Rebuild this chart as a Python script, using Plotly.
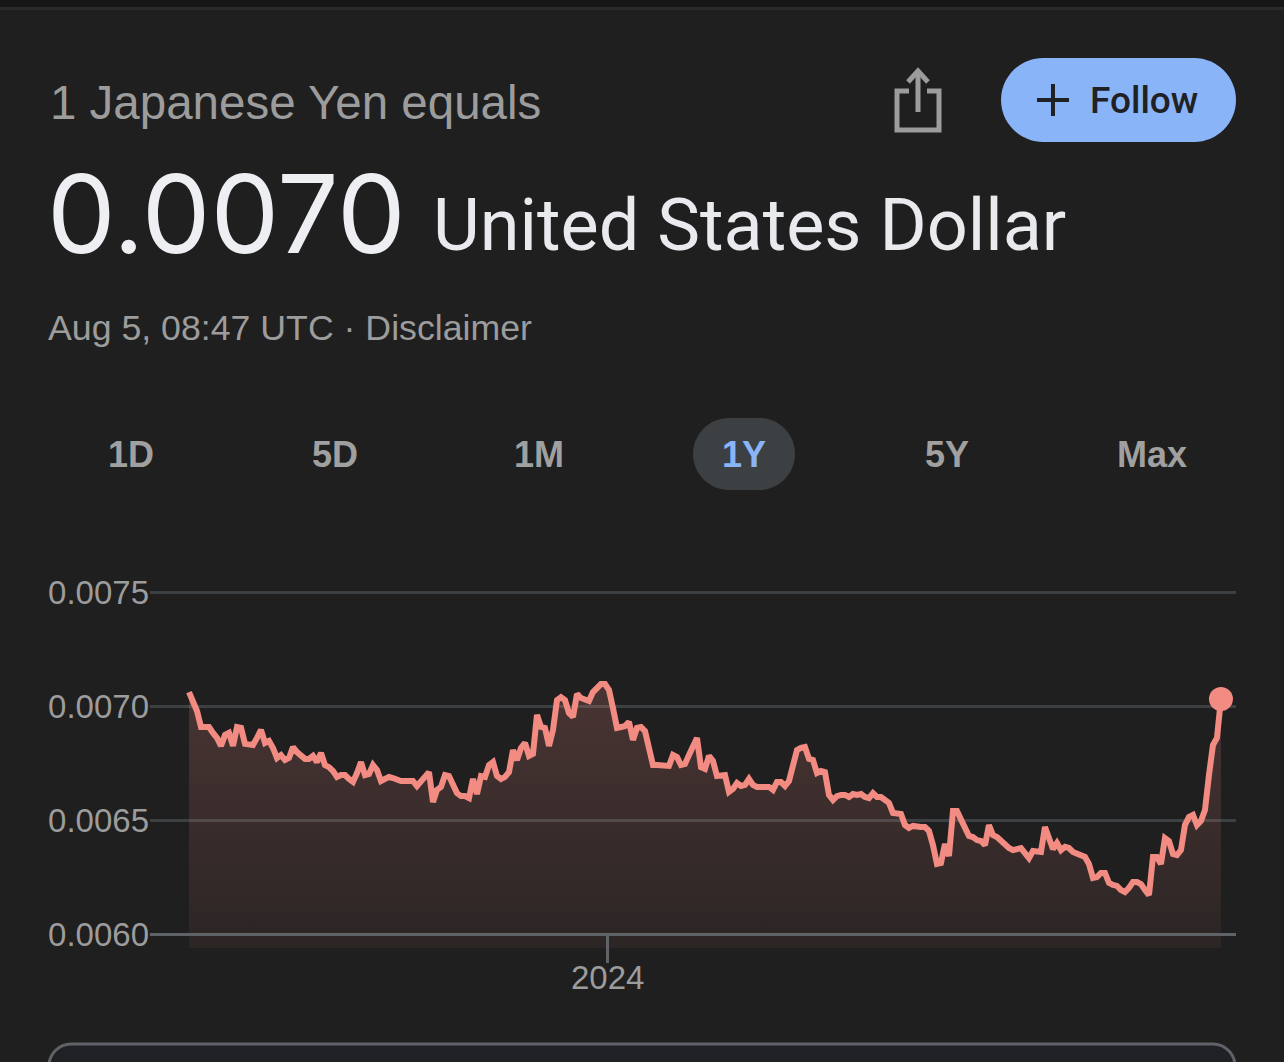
import numpy as np
import pandas as pd
import plotly.graph_objects as go

# JPY to USD over one year, in USD per million JPY
rate_micro = [
    7061, 7013, 6978, 6908, 6908, 6908, 6882, 6860, 6825, 6873,
    6882, 6825, 6908, 6904, 6834, 6829, 6829, 6860, 6895, 6838,
    6847, 6816, 6772, 6785, 6763, 6772, 6820, 6798, 6785, 6768,
    6768, 6781, 6754, 6794, 6741, 6732, 6715, 6689, 6697, 6697,
    6680, 6667, 6706, 6754, 6697, 6702, 6741, 6719, 6671, 6684,
    6689, 6684, 6675, 6671, 6671, 6671, 6671, 6649, 6667, 6689,
    6710, 6579, 6632, 6645, 6697, 6693, 6654, 6618, 6605, 6605,
    6596, 6680, 6614, 6693, 6689, 6741, 6754, 6693, 6680, 6689,
    6710, 6807, 6763, 6816, 6838, 6781, 6790, 6961, 6908, 6904,
    6825, 6895, 7026, 7039, 7026, 6969, 6952, 7053, 7035, 7031,
    7022, 7061, 7075, 7096, 7096, 7070, 6991, 6904, 6908, 6912,
    6930, 6851, 6904, 6908, 6890, 6816, 6741, 6741, 6741, 6741,
    6737, 6785, 6776, 6741, 6746, 6785, 6816, 6860, 6732, 6724,
    6781, 6759, 6693, 6693, 6697, 6623, 6636, 6662, 6649, 6654,
    6680, 6654, 6645, 6645, 6645, 6645, 6632, 6667, 6667, 6649,
    6671, 6737, 6807, 6816, 6820, 6768, 6763, 6706, 6715, 6710,
    6610, 6588, 6605, 6610, 6610, 6601, 6614, 6610, 6614, 6601,
    6596, 6618, 6601, 6601, 6588, 6575, 6531, 6526, 6526, 6478,
    6465, 6474, 6469, 6469, 6469, 6452, 6390, 6307, 6311, 6395,
    6342, 6539, 6539, 6504, 6469, 6430, 6425, 6412, 6408, 6390,
    6478, 6434, 6425, 6408, 6399, 6377, 6368, 6373, 6377, 6355,
    6333, 6364, 6360, 6360, 6469, 6412, 6373, 6399, 6368, 6382,
    6377, 6360, 6351, 6346, 6338, 6307, 6246, 6250, 6268, 6268,
    6224, 6215, 6211, 6193, 6184, 6202, 6228, 6228, 6219, 6193,
    6171, 6338, 6338, 6307, 6421, 6408, 6351, 6346, 6368, 6478,
    6513, 6522, 6478, 6496, 6544, 6697, 6829, 6860, 7031,
]
y_ticks = [0.0060, 0.0065, 0.0070, 0.0075]
y_labels = ['0.0060', '0.0065', '0.0070', '0.0075']
x_ticks = ['2023-12-31 12:00']
x_labels = ['2024']
ranges = ['1D', '5D', '1M', '1Y', '5Y', 'Max']

values = np.array(rate_micro) / 1e6
dates = pd.date_range('2023-08-05', '2024-08-05', periods=len(values))

BG = '#1f1f1f'
LINE = '#f28b82'
GREY = '#9c9c9c'
WHITE = '#e8eaed'
BLUE = '#8ab4f8'
SANS = 'Liberation Sans'

# plot area in page pixels
L, R, T, B = 150, 1236, 580, 948
W, H = R - L, B - T


def px(x):
    return (x - L) / W


def py(y):
    return (B - y) / H


def rounded(x0, y0, x1, y1, r):
    # rounded rectangle path in paper coords
    k = r * 0.45
    pts = [
        f'M{px(x0 + r)},{py(y0)}', f'L{px(x1 - r)},{py(y0)}',
        f'C{px(x1 - k)},{py(y0)} {px(x1)},{py(y0 + k)} {px(x1)},{py(y0 + r)}',
        f'L{px(x1)},{py(y1 - r)}',
        f'C{px(x1)},{py(y1 - k)} {px(x1 - k)},{py(y1)} {px(x1 - r)},{py(y1)}',
        f'L{px(x0 + r)},{py(y1)}',
        f'C{px(x0 + k)},{py(y1)} {px(x0)},{py(y1 - k)} {px(x0)},{py(y1 - r)}',
        f'L{px(x0)},{py(y0 + r)}',
        f'C{px(x0)},{py(y0 + k)} {px(x0 + k)},{py(y0)} {px(x0 + r)},{py(y0)}', 'Z',
    ]
    return ' '.join(pts)


def poly(points):
    return 'M' + ' L'.join(f'{px(x)},{py(y)}' for x, y in points)


fig = go.Figure()

fig.add_trace(go.Scatter(
    x=dates, y=values,
    mode='lines',
    line=dict(color=LINE, width=6, shape='linear'),
    fill='tozeroy',
    fillgradient=dict(
        type='vertical',
        colorscale=[[0, 'rgba(242,139,130,0.06)'], [1, 'rgba(242,139,130,0.2)']],
        start=0.00594, stop=0.0071,
    ),
    hoverinfo='skip',
    showlegend=False,
))

# dot on the latest value
fig.add_trace(go.Scatter(
    x=dates[-1:], y=values[-1:],
    mode='markers',
    marker=dict(color=LINE, size=24),
    cliponaxis=False,
    hoverinfo='skip',
    showlegend=False,
))

shapes = [
    dict(type='rect', x0=px(0), x1=px(1284), y0=py(0), y1=py(7), fillcolor='#161616', line_width=0),
    dict(type='rect', x0=px(0), x1=px(1284), y0=py(7), y1=py(10), fillcolor='#2a2b2d', line_width=0),
    # follow button
    dict(type='path', path=rounded(1001, 58, 1236, 142, 42), fillcolor='#8ab4f8', line_width=0),
    dict(type='line', x0=px(1037), x1=px(1069), y0=py(100), y1=py(100), line=dict(color='#202124', width=4)),
    dict(type='line', x0=px(1053), x1=px(1053), y0=py(84), y1=py(116), line=dict(color='#202124', width=4)),
    # share icon
    dict(type='path', path=poly([(909, 91), (897, 91), (897, 130), (939, 130), (939, 91), (927, 91)]),
         line=dict(color=GREY, width=5)),
    dict(type='line', x0=px(918), x1=px(918), y0=py(71), y1=py(112), line=dict(color=GREY, width=5)),
    dict(type='path', path=poly([(908, 82), (918, 71), (928, 82)]), line=dict(color=GREY, width=5)),
    # selected range pill
    dict(type='path', path=rounded(693, 418, 795, 490, 36), fillcolor='#3c4043', line_width=0),
    # card at the bottom
    dict(type='path', path=rounded(49, 1044, 1235, 1120, 22), fillcolor='#202124',
         line=dict(color='#5f6368', width=3)),
]
for s in shapes:
    s.update(xref='paper', yref='paper', layer='below')

annotations = []


def label(x, y, text, size, color, anchor='left', family=SANS, weight='normal'):
    annotations.append(dict(
        x=px(x), y=py(y), xref='paper', yref='paper', text=text,
        showarrow=False, xanchor=anchor, yanchor='middle', borderpad=0,
        font=dict(size=size, color=color, family=family, weight=weight),
    ))


label(49, 102, '1 Japanese Yen equals', 47.5, GREY)
label(46, 213, '0.0070', 109, '#eeeff2', family='Inter')
label(432, 225, 'United States Dollar', 72, WHITE, family='Roboto')
label(47, 328, 'Aug 5, 08:47 UTC · Disclaimer', 35.7, GREY)
label(1144, 100, 'Follow', 37, '#202124', anchor='center', family='Roboto', weight=500)
for name, cx in zip(ranges, [131, 335, 539, 744, 947, 1152]):
    label(cx, 454, name, 36, BLUE if name == '1Y' else '#a0a0a0', anchor='center', weight='bold')

fig.update_layout(
    width=1284, height=1062,
    margin=dict(l=L, r=1284 - R, t=T, b=1062 - B, pad=0),
    paper_bgcolor=BG,
    plot_bgcolor=BG,
    showlegend=False,
    hovermode=False,
    shapes=shapes,
    annotations=annotations,
    xaxis=dict(
        type='date',
        range=['2023-07-22 04:00', '2024-08-10 08:00'],
        anchor='free', position=14 / H,
        showgrid=False, zeroline=False,
        showline=True, linecolor='#5f6368', linewidth=3,
        tickmode='array', tickvals=x_ticks, ticktext=x_labels,
        ticks='outside', ticklen=27, tickwidth=3, tickcolor='#5f6368',
        ticklabelstandoff=-14,
        tickfont=dict(size=33, color=GREY, family=SANS),
    ),
    yaxis=dict(
        range=[0.0060 - 14 * 0.0005 / 114, 0.0075 + 12 * 0.0005 / 114],
        showline=False, zeroline=False,
        gridcolor='#3c4043', gridwidth=3,
        tickmode='array', tickvals=y_ticks, ticktext=y_labels,
        ticks='', tickfont=dict(size=33, color=GREY, family=SANS),
    ),
)

fig.write_html(
    'out.html',
    config=dict(displayModeBar=False),
    post_script="document.body.style.margin='0';document.body.style.background='#1f1f1f';",
)
